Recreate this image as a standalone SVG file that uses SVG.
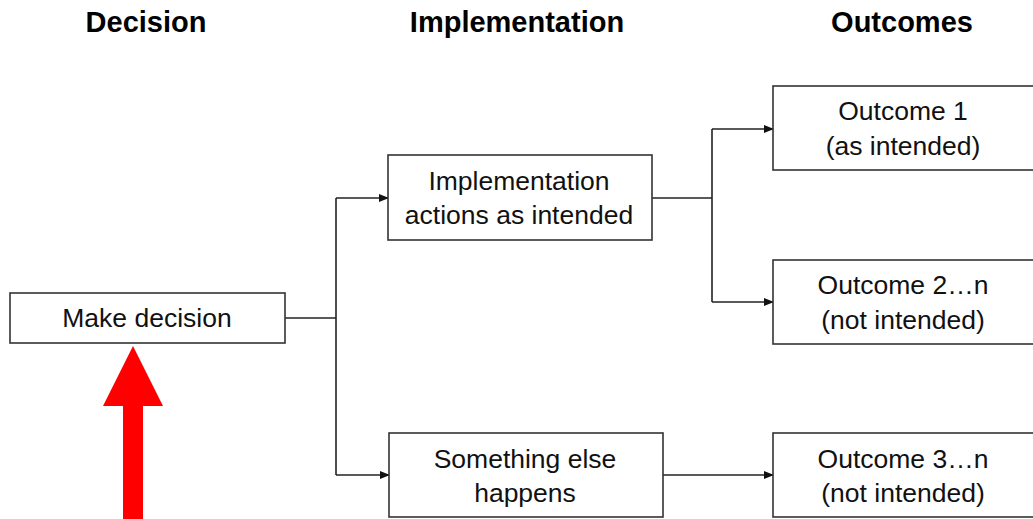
<svg xmlns="http://www.w3.org/2000/svg" width="1033" height="519" viewBox="0 0 1033 519">
<style>
.box{fill:#fff;stroke:#333;stroke-width:1.6}
.t{font-family:"Liberation Sans",Arial,sans-serif;font-size:26.5px;fill:#111;text-anchor:middle}
.h{font-family:"Liberation Sans",Arial,sans-serif;font-size:29px;font-weight:bold;fill:#000;text-anchor:middle}
.c{fill:none;stroke:#222;stroke-width:1.6}
</style>
<defs>
<marker id="ah" markerWidth="10" markerHeight="8" refX="9" refY="4" orient="auto" markerUnits="userSpaceOnUse">
<path d="M0,0 L10,4 L0,8 Z" fill="#111"/>
</marker>
</defs>
<g id="headers">
<text class="h" x="146" y="32">Decision</text>
<text class="h" x="517" y="32">Implementation</text>
<text class="h" x="902" y="32">Outcomes</text>
</g>
<g id="connectors">
<path class="c" d="M285,318 H336"/>
<path class="c" d="M336,198 V475"/>
<path class="c" d="M336,198 H388" marker-end="url(#ah)"/>
<path class="c" d="M336,475 H389" marker-end="url(#ah)"/>
<path class="c" d="M652,198 H712"/>
<path class="c" d="M712,129 V302"/>
<path class="c" d="M712,129 H773" marker-end="url(#ah)"/>
<path class="c" d="M712,302 H773" marker-end="url(#ah)"/>
<path class="c" d="M663,475 H773" marker-end="url(#ah)"/>
</g>
<g id="make-decision">
<rect class="box" x="10" y="293" width="275" height="50"/>
<text class="t" x="147" y="327">Make decision</text>
</g>
<g id="implementation">
<rect class="box" x="388" y="155" width="264" height="85"/>
<text class="t" x="519" y="190">Implementation</text>
<text class="t" x="519" y="224">actions as intended</text>
</g>
<g id="something-else">
<rect class="box" x="389" y="433" width="274" height="84"/>
<text class="t" x="525" y="468">Something else</text>
<text class="t" x="525" y="502">happens</text>
</g>
<g id="outcome1">
<rect class="box" x="773" y="86" width="270" height="84"/>
<text class="t" x="903" y="120">Outcome 1</text>
<text class="t" x="903" y="155">(as intended)</text>
</g>
<g id="outcome2">
<rect class="box" x="773" y="260" width="270" height="84"/>
<text class="t" x="903" y="294">Outcome 2…n</text>
<text class="t" x="903" y="329">(not intended)</text>
</g>
<g id="outcome3">
<rect class="box" x="773" y="433" width="270" height="84"/>
<text class="t" x="903" y="468">Outcome 3…n</text>
<text class="t" x="903" y="502">(not intended)</text>
</g>
<g id="red-arrow">
<path d="M133,346 L163,406 L143,406 L143,519 L123,519 L123,406 L103,406 Z" fill="#ff0000"/>
</g>
</svg>
